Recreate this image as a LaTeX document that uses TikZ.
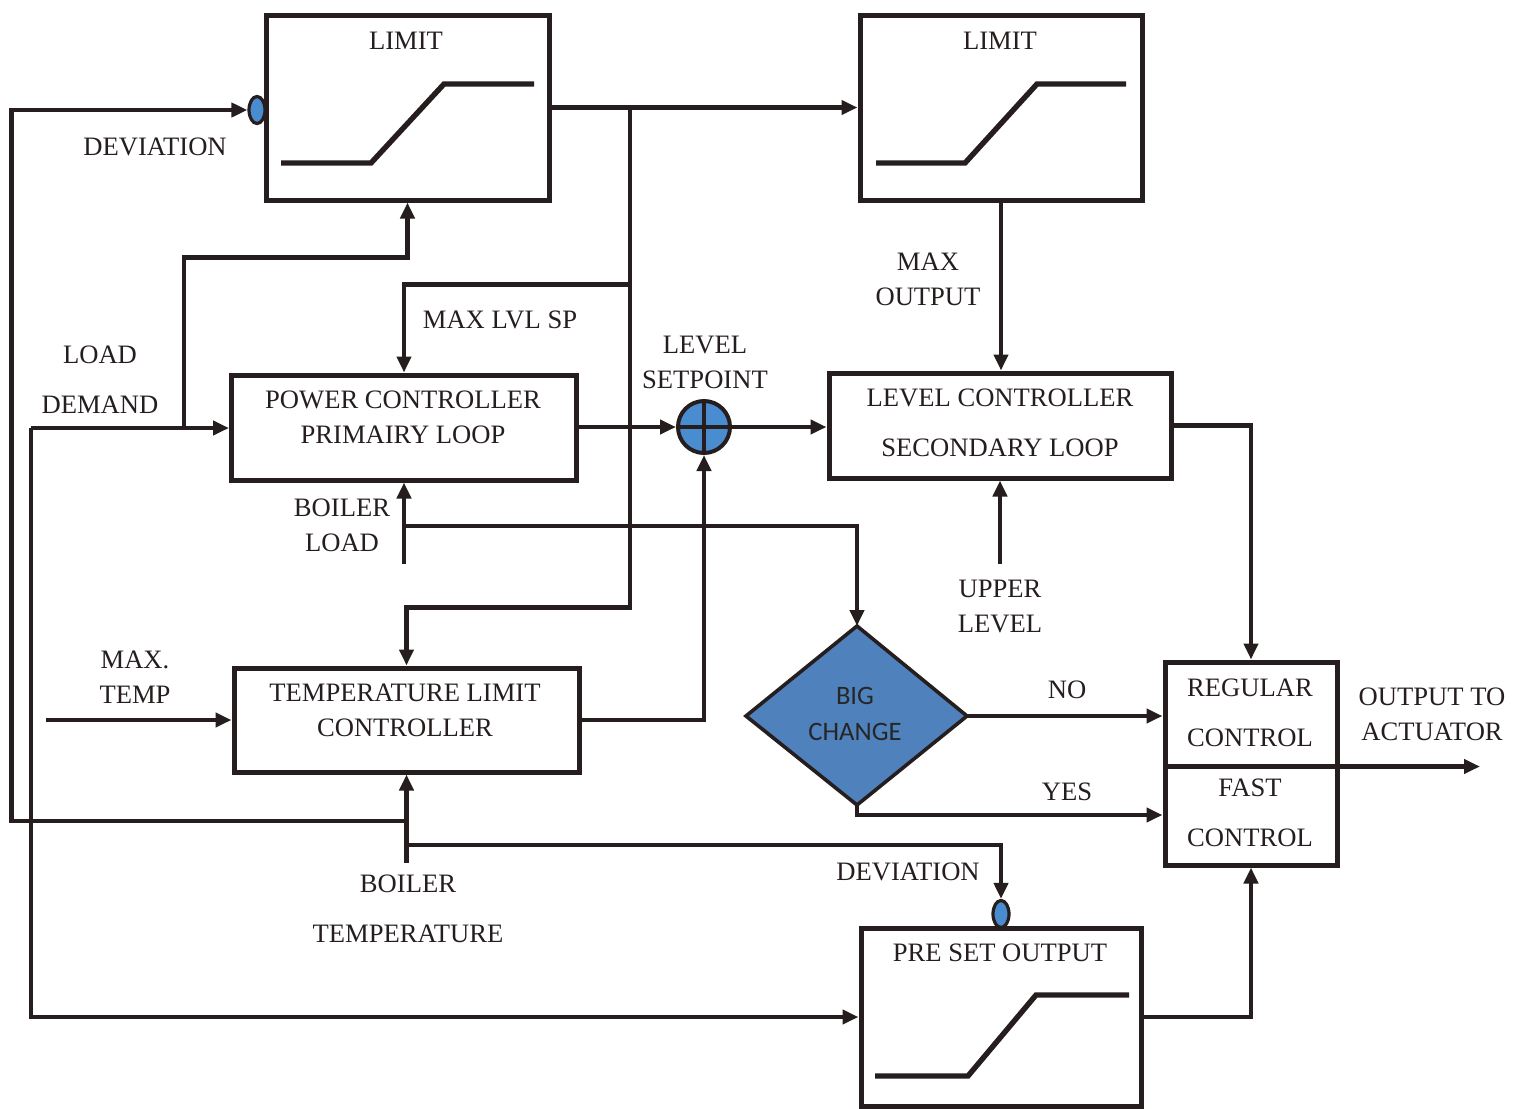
\documentclass[tikz,border=0pt]{standalone}
\usepackage{fontspec}
\setmainfont{Liberation Serif}
\newfontfamily\calib{Carlito}
\usetikzlibrary{arrows.meta,shapes.geometric,calc}
\definecolor{ink}{RGB}{38,30,30}
\definecolor{dblue}{RGB}{79,129,189}
\definecolor{sblue}{RGB}{74,140,208}
\begin{document}
\begin{tikzpicture}[x=0.5pt,y=-0.5pt,
  ln/.style={draw=ink,line width=2.3pt},
  arr/.style={ln,-{Triangle[length=8pt,width=7pt]}},
  box/.style={draw=ink,line width=2.5pt,rectangle,inner sep=0pt},
  lab/.style={text=ink,inner sep=0pt,align=center,font=\fontsize{13.3}{17.5}\selectfont},
  wide/.style={font=\fontsize{13.3}{25}\selectfont},
  curve/.style={draw=ink,line width=2.7pt},
  oval/.style={ellipse,draw=ink,line width=1.6pt,fill=sblue,minimum width=8pt,minimum height=13.5pt,inner sep=0pt}]
\useasboundingbox[fill=white] (0,0) rectangle (1517,1109);

% boxes
\node[box,minimum width=141.5pt,minimum height=92.5pt] (lim1) at (407.5,107.5) {};
\node[box,minimum width=141pt,minimum height=92.5pt] (lim2) at (1001,107.5) {};
\node[box,minimum width=172.5pt,minimum height=52.5pt] (pc) at (404,427.5) {};
\node[box,minimum width=171pt,minimum height=52.5pt] (lc) at (1000,425.5) {};
\node[box,minimum width=172.5pt,minimum height=52pt] (tlc) at (406.5,720) {};
\node[box,minimum width=86pt,minimum height=101.5pt] (rf) at (1251,763.5) {};
\node[box,minimum width=140pt,minimum height=89pt] (pso) at (1001,1017) {};
\node[circle,draw=ink,line width=2pt,fill=sblue,minimum size=26pt,inner sep=0pt] (sum) at (704,427) {};
\draw[ink,line width=2pt] (sum.north) -- (sum.south) (sum.west) -- (sum.east);
\node[oval] (ov1) at (257,110) {};
\node[oval] (ov2) at (1001,914) {};

% diamond
\coordinate (dt) at (857,626);
\coordinate (dr) at (967,716);
\coordinate (db) at (857,805);
\coordinate (dl) at (746,716);
\filldraw[fill=dblue,draw=ink,line width=1.8pt] (dt) -- (dr) -- (db) -- (dl) -- cycle;

% limiter curves
\draw[curve] (281,163) -- (371,163) -- (444,84) -- (534,84);
\draw[curve] (876,163) -- (965,163) -- (1037,84) -- (1126,84);
\draw[curve] (875,1076) -- (968,1076) -- (1036,995) -- (1129,995);

% connectors
\coordinate (j1) at (630,107.5);
\draw[arr] (lim1.east) -- (lim2.west);
\draw[arr] (j1) |- ($(pc.north)+(0,-88)$) -- (pc.north);
\draw[arr] (j1) |- ($(tlc.north)+(0,-58)$) -- (tlc.north);
\draw[arr] (lim2.south) -- (lim2.south |- lc.north);
\draw[arr] (sum -| pc.east) -- (sum.west);
\draw[arr] (sum.east) -- (sum -| lc.west);
\draw[arr] (tlc.east) -| (sum.south);
\coordinate (ul) at (1000,564);
\draw[arr] (ul) -- (lc.south);
\draw[arr] (lc.east) -| (rf.north);
\draw[arr] (dr) -- (dr -| rf.west);
\draw[arr] (db) |- ($(rf.west)+(0,51.5)$);
\coordinate (dv) at ($(rf.west)+(0,3)$);
\coordinate (outend) at (1480,766.5);
\draw[arr] (dv) -- (outend);
\draw[arr] (pso.east) -| (rf.south);

\coordinate (ld) at (31,428);
\coordinate (ldj) at (184,428);
\draw[arr] (ld) -- (ld -| pc.west);
\draw[arr] (ldj) |- ($(lim1.south)+(0,55)$) -- (lim1.south);
\draw[arr] (ld) |- (pso.west);

\coordinate (bl) at (404,564);
\coordinate (blj) at (404,526);
\draw[arr] (bl) -- (pc.south);
\draw[arr] (blj) -| (dt);

\coordinate (mt) at (46,720);
\draw[arr] (mt) -- (tlc.west);

\coordinate (bt) at (406.5,863);
\coordinate (btl) at (406.5,821);
\coordinate (btr) at (406.5,845);
\coordinate (lc1) at (11.5,110);
\draw[arr] (bt) -- (tlc.south);
\draw[arr] (btl) -| (lc1) -- (ov1.west);
\draw[arr] (btr) -| (ov2.north);

% labels
\node[lab] (tl1) at (406,41) {LIMIT};
\node[lab] (tl2) at (1000,41) {LIMIT};
\node[lab] (tdev1) at (155,147) {DEVIATION};
\node[lab] (tmls) at (500,320) {MAX LVL SP};
\node[lab,wide] (tld) at (100,380) {LOAD\\DEMAND};
\node[lab] (tpc) at (403,417.5) {POWER CONTROLLER\\PRIMAIRY LOOP};
\node[lab] (tls) at (705,362.5) {LEVEL\\SETPOINT};
\node[lab] (tmo) at (928,279.5) {MAX\\OUTPUT};
\node[lab,wide] (tlc2) at (1000,423) {LEVEL CONTROLLER\\SECONDARY LOOP};
\node[lab] (tbl) at (342,525.5) {BOILER\\LOAD};
\node[lab] (tul) at (1000,606) {UPPER\\LEVEL};
\node[lab] (tmt) at (135,677.5) {MAX.\\TEMP};
\node[lab] (ttlc) at (405,710) {TEMPERATURE LIMIT\\CONTROLLER};
\node[lab,text=black!85,font=\calib\fontsize{13.3}{18}\selectfont] (tbc) at (855,714) {BIG\\CHANGE};
\node[lab] (tno) at (1067,690) {NO};
\node[lab] (tyes) at (1067,792) {YES};
\node[lab,wide] (treg) at (1250,713) {REGULAR\\CONTROL};
\node[lab,wide] (tfast) at (1250,812.5) {FAST\\CONTROL};
\node[lab] (tout) at (1432,714.5) {OUTPUT TO\\ACTUATOR};
\node[lab] (tdev2) at (908,872) {DEVIATION};
\node[lab,wide] (tbt) at (408,909) {BOILER\\TEMPERATURE};
\node[lab] (tpso) at (1000,953) {PRE SET OUTPUT};
\end{tikzpicture}
\end{document}
